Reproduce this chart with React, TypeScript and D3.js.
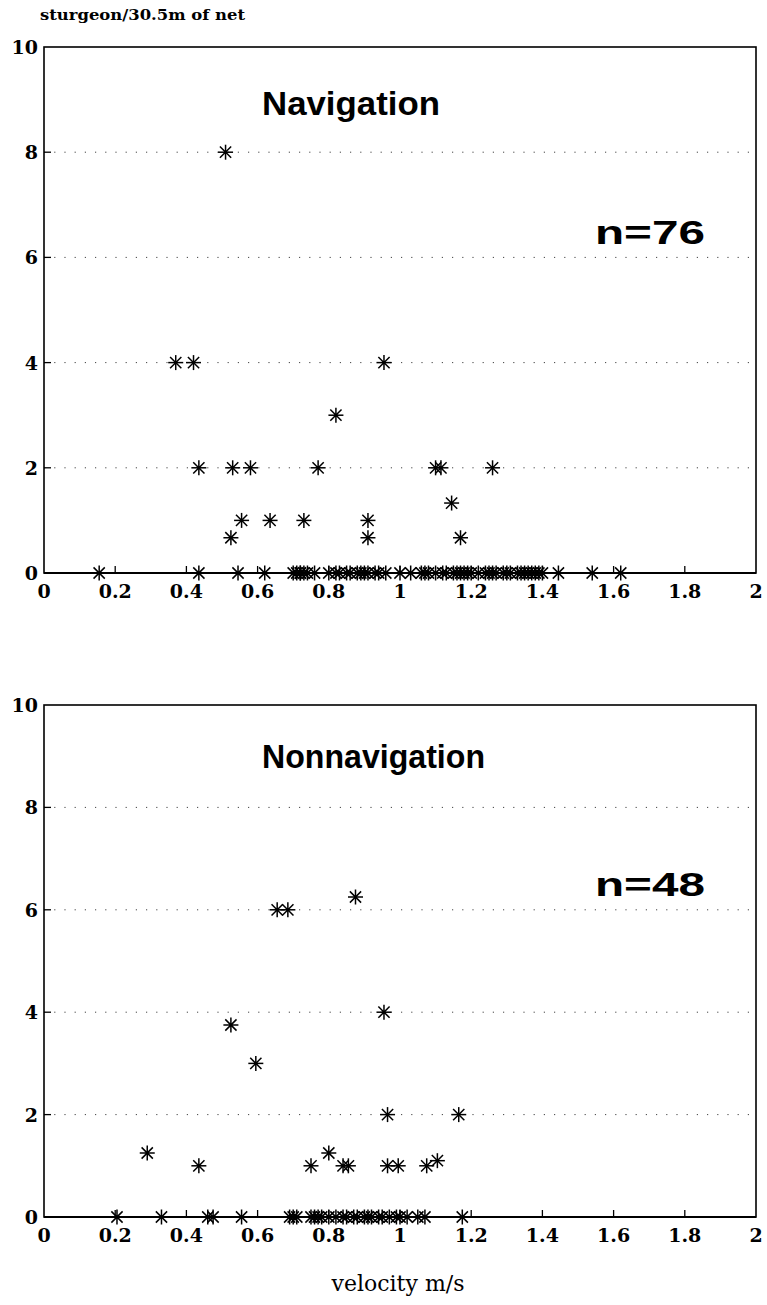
import * as d3 from "d3";
import React from "react";

// velocity (m/s) and catch (sturgeon per 30.5 m of net)
const navVelocity = [
  0.51, 0.37, 0.42, 0.955, 0.82,
  0.435, 0.53, 0.58, 0.77, 1.10, 1.115, 1.26,
  1.145, 0.555, 0.635, 0.73, 0.91, 0.525, 0.91, 1.17,
  0.155, 0.435, 0.545, 0.62, 1.445, 1.54, 1.62,
  0.70, 0.71, 0.72, 0.72, 0.73, 0.74, 0.76, 0.80, 0.82, 0.83,
  0.85, 0.86, 0.88, 0.89, 0.90, 0.91, 0.93, 0.94, 0.96, 1.00,
  1.03, 1.06, 1.07, 1.08, 1.10, 1.12, 1.13, 1.15, 1.16, 1.17,
  1.18, 1.19, 1.20, 1.22, 1.24, 1.25, 1.26, 1.27, 1.29, 1.30,
  1.31, 1.33, 1.34, 1.35, 1.36, 1.37, 1.38, 1.39, 1.40,
];
const navCatch = [
  8, 4, 4, 4, 3,
  2, 2, 2, 2, 2, 2, 2,
  1.33, 1, 1, 1, 1, 0.67, 0.67, 0.67,
  0, 0, 0, 0, 0, 0, 0,
  0, 0, 0, 0, 0, 0, 0, 0, 0, 0,
  0, 0, 0, 0, 0, 0, 0, 0, 0, 0,
  0, 0, 0, 0, 0, 0, 0, 0, 0, 0,
  0, 0, 0, 0, 0, 0, 0, 0, 0, 0,
  0, 0, 0, 0, 0, 0, 0, 0, 0,
];

const nonVelocity = [
  0.655, 0.685, 0.875, 0.955, 0.525, 0.595, 0.965, 1.165,
  0.29, 0.80, 0.435, 0.75, 0.84, 0.855, 0.965, 0.995, 1.075, 1.105,
  0.205, 0.33, 0.46, 0.475, 0.555, 1.175,
  0.69, 0.70, 0.71, 0.75, 0.76, 0.77, 0.78, 0.80, 0.82, 0.84,
  0.85, 0.87, 0.88, 0.90, 0.91, 0.92, 0.94, 0.95, 0.97, 0.99,
  1.00, 1.02, 1.05, 1.07,
];
const nonCatch = [
  6, 6, 6.25, 4, 3.75, 3, 2, 2,
  1.25, 1.25, 1, 1, 1, 1, 1, 1, 1, 1.1,
  0, 0, 0, 0, 0, 0,
  0, 0, 0, 0, 0, 0, 0, 0, 0, 0,
  0, 0, 0, 0, 0, 0, 0, 0, 0, 0,
  0, 0, 0, 0,
];

const xTicks = [0, 0.2, 0.4, 0.6, 0.8, 1, 1.2, 1.4, 1.6, 1.8, 2];
const xTickLabels = ["0", "0.2", "0.4", "0.6", "0.8", "1", "1.2", "1.4", "1.6", "1.8", "2"];
const yTicks = [0, 2, 4, 6, 8, 10];
const gridValues = [2, 4, 6, 8];

const serif = "'DejaVu Serif', 'Liberation Serif', serif";
const sans = "'Liberation Sans', Arial, sans-serif";

const Star = ({ x, y }: { x: number; y: number }) => {
  const r = 7.5;
  const d = r * 0.75;
  return (
    <g transform={`translate(${x},${y})`} stroke="#000" strokeWidth={1.5}>
      <line x1={-r} y1={0} x2={r} y2={0} />
      <line x1={0} y1={-r} x2={0} y2={r} />
      <line x1={-d} y1={-d} x2={d} y2={d} />
      <line x1={-d} y1={d} x2={d} y2={-d} />
      <circle r={1.8} fill="#000" stroke="none" />
    </g>
  );
};

const Panel = ({ top, bottom, xs, ys, title, titleLen, n, titleY, nY }: any) => {
  const left = 44;
  const right = 756;
  const x = d3.scaleLinear().domain([0, 2]).range([left, right]);
  const y = d3.scaleLinear().domain([0, 10]).range([bottom, top]);
  return (
    <g>
      {gridValues.map((v) => (
        <line key={"g" + v} x1={left} x2={right} y1={y(v)} y2={y(v)}
          stroke="#444" strokeWidth={1} strokeDasharray="1.2 9" />
      ))}
      <rect x={left} y={top} width={right - left} height={bottom - top}
        fill="none" stroke="#000" strokeWidth={1.6} />
      <line x1={left} x2={right} y1={bottom} y2={bottom} stroke="#000" strokeWidth={2.2} />
      {xTicks.slice(1, -1).map((t) => (
        <line key={"xt" + t} x1={x(t)} x2={x(t)} y1={bottom} y2={bottom - 7} stroke="#000" strokeWidth={1.3} />
      ))}
      {yTicks.slice(1, -1).map((t) => (
        <line key={"yt" + t} x1={left} x2={left + 7} y1={y(t)} y2={y(t)} stroke="#000" strokeWidth={1.3} />
      ))}
      {xTicks.map((t, i) => (
        <text key={"xl" + t} x={x(t)} y={bottom + 25} textAnchor="middle"
          fontFamily={serif} fontWeight="bold" fontSize={19}>{xTickLabels[i]}</text>
      ))}
      {yTicks.map((t) => (
        <text key={"yl" + t} x={left - 6} y={y(t) + 7} textAnchor="end"
          fontFamily={serif} fontWeight="bold" fontSize={19}>{t}</text>
      ))}
      <text x={262} y={titleY} textLength={titleLen} lengthAdjust="spacingAndGlyphs"
        fontFamily={sans} fontWeight="bold" fontSize={33}>{title}</text>
      <text x={595} y={nY} textLength={110} lengthAdjust="spacingAndGlyphs"
        fontFamily={sans} fontWeight="bold" fontSize={33}>{n}</text>
      {xs.map((v: number, i: number) => (
        <Star key={"p" + i} x={x(v)} y={y(ys[i])} />
      ))}
    </g>
  );
};

export default function App() {
  return (
    <svg width={767} height={1305} style={{ position: "absolute", left: 0, top: 0, background: "#fff" }}>
      <rect width={767} height={1305} fill="#fff" />
      <text x={40} y={20} textLength={205} lengthAdjust="spacingAndGlyphs"
        fontFamily={serif} fontWeight="bold" fontSize={15}>sturgeon/30.5m of net</text>
      <Panel top={47} bottom={573} xs={navVelocity} ys={navCatch} title="Navigation" titleLen={178}
        n="n=76" titleY={115} nY={244} />
      <Panel top={705} bottom={1217} xs={nonVelocity} ys={nonCatch} title="Nonnavigation" titleLen={223}
        n="n=48" titleY={768} nY={896} />
      <text x={398} y={1291} textAnchor="middle" fontFamily={serif} fontSize={22}>velocity m/s</text>
    </svg>
  );
}
